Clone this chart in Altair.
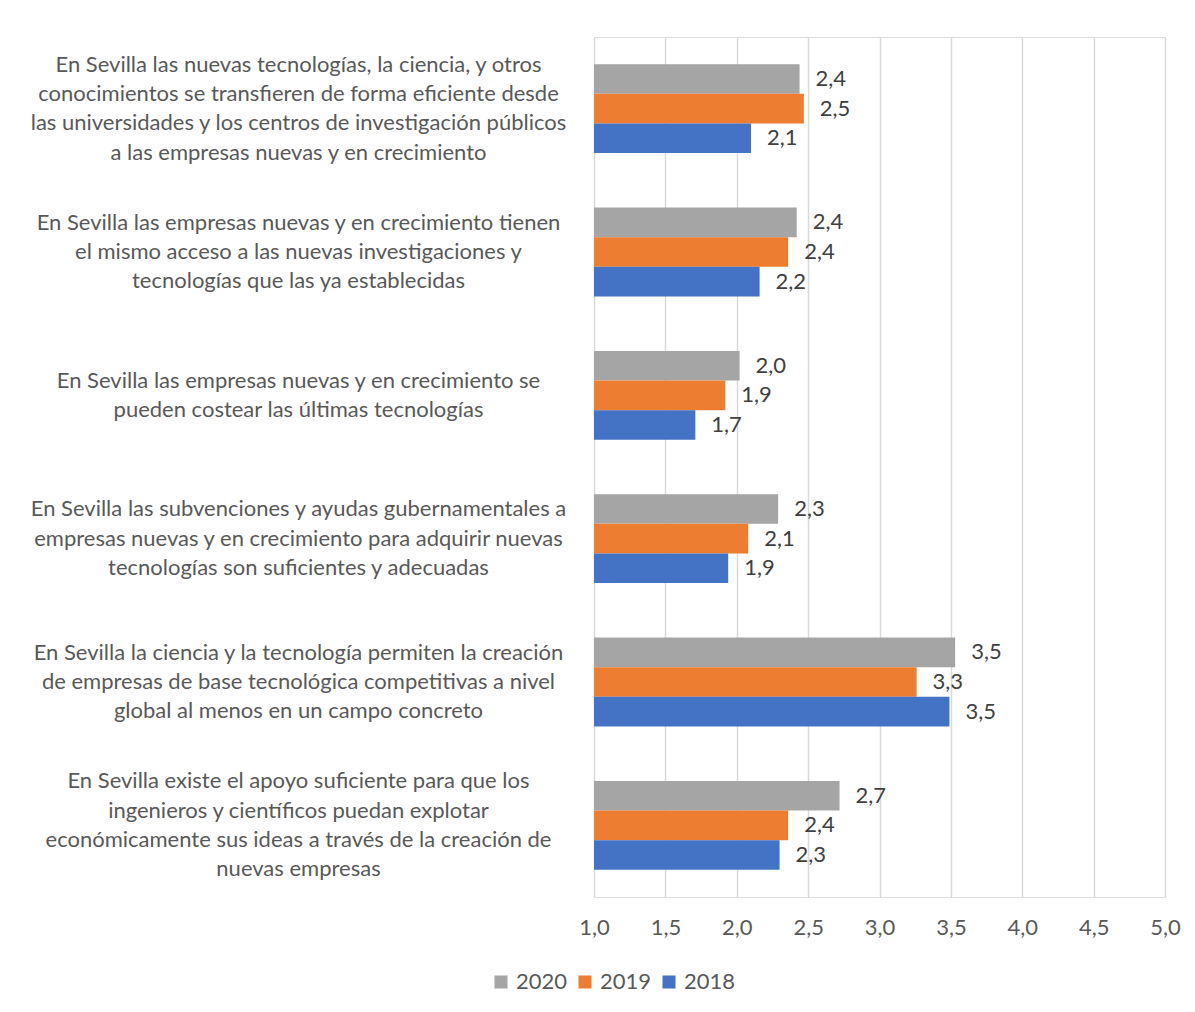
import altair as alt
import pandas as pd

categories = [
    "En Sevilla las nuevas tecnologías, la ciencia, y otros|conocimientos se transfieren de forma eficiente desde|las universidades y los centros de investigación públicos|a las empresas nuevas y en crecimiento",
    "En Sevilla las empresas nuevas y en crecimiento tienen|el mismo acceso a las nuevas investigaciones y|tecnologías que las ya establecidas",
    "En Sevilla las empresas nuevas y en crecimiento se|pueden costear las últimas tecnologías",
    "En Sevilla las subvenciones y ayudas gubernamentales a|empresas nuevas y en crecimiento para adquirir nuevas|tecnologías son suficientes y adecuadas",
    "En Sevilla la ciencia y la tecnología permiten la creación|de empresas de base tecnológica competitivas a nivel|global al menos en un campo concreto",
    "En Sevilla existe el apoyo suficiente para que los|ingenieros y científicos puedan explotar|económicamente sus ideas a través de la creación de|nuevas empresas",
]
series = ["2020", "2019", "2018"]
v2020 = [2.44, 2.42, 2.02, 2.29, 3.53, 2.72]
v2019 = [2.47, 2.36, 1.92, 2.08, 3.26, 2.36]
v2018 = [2.10, 2.16, 1.71, 1.94, 3.49, 2.30]
x_ticks = [1.0, 1.5, 2.0, 2.5, 3.0, 3.5, 4.0, 4.5, 5.0]
colors = ["#A5A5A5", "#ED7D31", "#4472C4"]

rows = []
for s, vals in zip(series, [v2020, v2019, v2018]):
    for c, v in zip(categories, vals):
        rows.append({"cat": c, "serie": s, "valor": v})
df = pd.DataFrame(rows)

FONT = "Lato"
FS = 22
LH = 29.3

nlines = "length(split(datum.value, '|'))"
label_offset = {
    "condition": [
        {"test": f"{nlines} == 4", "value": -1.5 * LH},
        {"test": f"{nlines} == 2", "value": -0.5 * LH},
    ],
    "value": -1.0 * LH,
}

base = alt.Chart(df).transform_calculate(
    base="1",
    etiqueta="replace(format(datum.valor, '.1f'), '.', ',')",
).encode(
    y=alt.Y(
        "cat:N",
        sort=categories,
        title=None,
        scale=alt.Scale(paddingInner=0.38, paddingOuter=0.19),
        axis=alt.Axis(
            labelExpr="split(datum.value, '|')",
            labelAlign="center",
            labelBaseline="middle",
            labelOffset=label_offset,
            labelPadding=296,
            labelLineHeight=LH,
            labelFontSize=FS,
            labelFont=FONT,
            labelColor="#595959",
            labelLimit=0,
            domain=False,
            ticks=False,
            grid=False,
        ),
    ),
    yOffset=alt.YOffset("serie:N", sort=series, scale=alt.Scale(paddingInner=0, paddingOuter=0)),
)

bars = base.mark_bar().encode(
    x=alt.X(
        "valor:Q",
        title=None,
        scale=alt.Scale(domain=[1, 5], zero=False, nice=False),
        axis=alt.Axis(
            values=x_ticks,
            labelExpr="replace(format(datum.value, '.1f'), '.', ',')",
            labelFlush=False,
            grid=True,
            gridColor="#D9D9D9",
            gridWidth=1.5,
            domain=False,
            ticks=False,
            labelPadding=20,
            labelFontSize=FS,
            labelFont=FONT,
            labelColor="#595959",
        ),
    ),
    x2="base:Q",
    color=alt.Color(
        "serie:N",
        sort=series,
        scale=alt.Scale(domain=series, range=colors),
        legend=alt.Legend(
            title=None,
            orient="none",
            direction="horizontal",
            legendX=-104,
            legendY=934,
            symbolType="square",
            symbolSize=170,
            symbolStrokeWidth=0,
            labelFontSize=FS,
            labelFont=FONT,
            labelColor="#595959",
            columnPadding=6,
            labelOffset=4,
        ),
    ),
)

labels = base.mark_text(
    align="left", baseline="middle", dx=16, fontSize=FS, font=FONT, color="#404040"
).encode(
    x=alt.X("valor:Q"),
    text="etiqueta:N",
)

chart = (
    alt.layer(bars, labels)
    .properties(
        width=571,
        height=860,
        autosize=alt.AutoSizeParams(type="none"),
        padding={"left": 586, "top": 29, "right": 20, "bottom": 100},
    )
    .configure_view(stroke=None)
    .configure(background="white")
)

chart.save("out.html", embed_options={"renderer": "svg", "actions": False})
